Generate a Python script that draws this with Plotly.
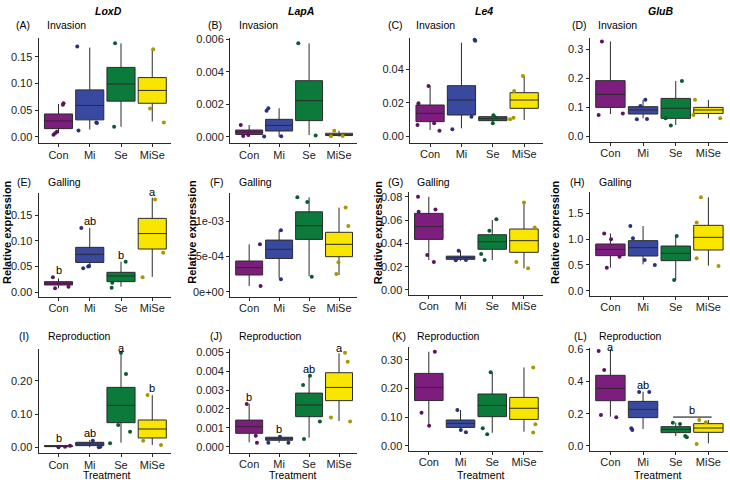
import plotly.graph_objects as go

CATS = ["Con", "Mi", "Se", "MiSe"]
GENES = ["LoxD", "LapA", "Le4", "GluB"]
STAGES = ["Invasion", "Galling", "Reproduction"]
TAGS = ["(A)", "(B)", "(C)", "(D)", "(E)", "(F)", "(G)", "(H)", "(I)", "(J)", "(K)", "(L)"]

# box statistics per treatment: [lower whisker, q1, median, q3, upper whisker]
A_box = [[0.007, 0.0156, 0.030, 0.043, 0.0616], [0.014, 0.032, 0.059, 0.088, 0.167],
         [0.019, 0.067, 0.099, 0.130, 0.175], [0.029, 0.063, 0.087, 0.111, 0.164]]
B_box = [[0.0, 0.00014, 0.00029, 0.00041, 0.00072], [0.0, 0.00035, 0.0007, 0.00107, 0.00175],
         [0.0001, 0.00099, 0.00222, 0.00345, 0.00575], [0.0, 0.00007, 0.00014, 0.00021, 0.00037]]
C_box = [[0.0036, 0.0086, 0.0136, 0.0186, 0.030], [0.0046, 0.0126, 0.0216, 0.0302, 0.056],
         [0.0076, 0.0092, 0.0104, 0.0116, 0.0126], [0.0096, 0.0166, 0.0216, 0.026, 0.036]]
D_box = [[0.076, 0.099, 0.144, 0.1915, 0.327], [0.061, 0.076, 0.09, 0.1015, 0.125],
         [0.038, 0.061, 0.096, 0.130, 0.19], [0.061, 0.078, 0.09, 0.099, 0.125]]
E_box = [[0.0078, 0.0142, 0.0175, 0.0207, 0.027], [0.048, 0.058, 0.0737, 0.0873, 0.125],
         [0.011, 0.0207, 0.0317, 0.0388, 0.0595], [0.030, 0.084, 0.114, 0.1435, 0.1836]]
F_box = [[0.00008, 0.000236, 0.00034, 0.000434, 0.00067], [0.00019, 0.00047, 0.0006, 0.00073, 0.00087],
         [0.00022, 0.00074, 0.000934, 0.00113, 0.001335], [0.000236, 0.000495, 0.00067, 0.00084, 0.00119]]
G_box = [[0.0257, 0.0434, 0.0543, 0.0657, 0.08], [0.025, 0.0263, 0.0277, 0.029, 0.0337],
         [0.0257, 0.0349, 0.0414, 0.0474, 0.060], [0.0186, 0.0323, 0.0423, 0.0523, 0.0743]]
H_box = [[0.446, 0.679, 0.80, 0.905, 1.11], [0.51, 0.672, 0.834, 0.97, 1.254],
         [0.207, 0.582, 0.724, 0.866, 1.06], [0.485, 0.789, 1.034, 1.267, 1.81]]
I_box = [[0.0, 0.002, 0.0035, 0.005, 0.007], [0.0, 0.005, 0.010, 0.015, 0.022],
         [0.014, 0.074, 0.126, 0.18, 0.287], [0.007, 0.028, 0.055, 0.082, 0.157]]
J_box = [[0.00023, 0.00071, 0.00106, 0.00141, 0.00226], [0.00021, 0.00034, 0.00042, 0.0005, 0.00057],
         [0.00048, 0.00159, 0.00221, 0.00284, 0.00376], [0.00136, 0.00244, 0.00314, 0.00392, 0.00495]]
K_box = [[0.072, 0.158, 0.204, 0.253, 0.329], [0.0525, 0.064, 0.078, 0.09, 0.125],
         [0.0455, 0.1016, 0.141, 0.181, 0.257], [0.049, 0.092, 0.131, 0.169, 0.274]]
L_box = [[0.182, 0.281, 0.358, 0.4387, 0.60], [0.1055, 0.176, 0.2276, 0.277, 0.337],
         [0.062, 0.083, 0.1035, 0.12, 0.145], [0.0166, 0.0848, 0.1117, 0.1386, 0.161]]

# individual replicate values per treatment, and their horizontal jitter
A_pts = [[0.063, 0.060, 0.010, 0.007, 0.004], [0.169, 0.012, 0.027, 0.026], [0.175, 0.019], [0.164, 0.053, 0.027]]
A_jit = [[0.16, 0.14, -0.05, -0.11, -0.16], [-0.40, -0.36, 0.21, 0.23], [-0.19, -0.22], [0.03, -0.07, 0.37]]
B_pts = [[0.00072, 0.00004, 0.00010], [0.00175, 0.00160, 0.00001, 0.00002], [0.00575, 0.00008], [0.00037, 0.00003, 0.00005]]
B_jit = [[-0.28, -0.2, -0.03], [-0.36, -0.42, -0.5, 0.07], [-0.36, 0.22], [-0.16, -0.27, 0.12]]
C_pts = [[0.030, 0.0196, 0.0066, 0.0076, 0.0032], [0.0578, 0.0572, 0.004, 0.0116], [0.0124, 0.0076, 0.0112], [0.036, 0.027, 0.010, 0.011]]
C_jit = [[-0.05, -0.37, -0.4, 0.13, 0.3], [0.42, 0.44, -0.29, 0.32], [0.02, 0.0, 0.07], [-0.04, -0.32, -0.45, -0.34]]
D_pts = [[0.327, 0.073, 0.078], [0.125, 0.104, 0.058, 0.059], [0.19, 0.036, 0.061], [0.125, 0.073, 0.061]]
D_jit = [[-0.26, -0.36, 0.38], [0.07, -0.08, -0.19, 0.12], [0.19, -0.15, -0.31], [-0.41, -0.46, 0.36]]
E_pts = [[0.029, 0.008, 0.011], [0.125, 0.0465, 0.050, 0.051], [0.0595, 0.0187, 0.009], [0.180, 0.077, 0.029]]
E_jit = [[-0.18, -0.11, 0.32], [-0.27, -0.21, -0.05, -0.02], [0.15, -0.28, -0.3], [0.09, 0.35, -0.31]]
F_pts = [[0.00067, 0.00008], [0.00087, 0.000175], [0.001335, 0.00127, 0.00021], [0.00119, 0.00093, 0.000415, 0.00025]]
F_jit = [[0.36, 0.38], [0.06, 0.06], [-0.39, -0.06, 0.09], [0.22, 0.31, -0.02, -0.09]]
G_pts = [[0.080, 0.067, 0.069, 0.030, 0.024], [0.0337, 0.0255, 0.0258], [0.0606, 0.0509, 0.0309, 0.0257], [0.075, 0.0537, 0.024, 0.0186]]
G_jit = [[-0.34, -0.32, 0.21, -0.05, 0.16], [-0.06, -0.15, 0.17], [0.13, -0.09, -0.35, -0.24], [0.0, 0.34, -0.24, 0.13]]
H_pts = [[1.11, 0.995, 0.446, 0.66], [1.254, 1.015, 0.595, 0.50], [1.06, 0.207], [1.81, 1.32, 0.627, 0.478]]
H_jit = [[-0.19, 0.02, -0.11, 0.28], [-0.39, -0.31, 0.05, 0.36], [0.03, -0.05], [-0.23, -0.36, -0.36, 0.31]]
I_pts = [[0.0, 0.002, 0.005], [0.020, 0.0, 0.002], [0.284, 0.220, 0.067, 0.047, 0.012], [0.157, 0.020, 0.007]]
I_jit = [[0.0, 0.21, 0.37], [0.1, 0.29, 0.34], [0.0, 0.16, -0.09, 0.29, -0.35], [-0.15, -0.29, 0.28]]
J_pts = [[0.00226, 0.00058, 0.00021], [0.00053, 0.00021, 0.00021], [0.00376, 0.00327, 0.00041, 0.00133], [0.00498, 0.0045, 0.00155, 0.00133]]
J_jit = [[-0.08, 0.22, 0.26], [0.03, -0.36, 0.31], [0.03, -0.2, -0.17, 0.36], [0.2, 0.29, -0.27, 0.37]]
K_pts = [[0.329, 0.1156, 0.070], [0.125, 0.047, 0.055], [0.257, 0.061, 0.040], [0.274, 0.075, 0.046]]
K_jit = [[0.19, -0.23, 0.01], [-0.1, 0.17, 0.01], [-0.05, -0.3, -0.16], [0.29, 0.36, 0.29]]
L_pts = [[0.59, 0.472, 0.192, 0.178], [0.335, 0.335, 0.11, 0.10], [0.145, 0.137, 0.062, 0.054], [0.161, 0.147, 0.0124]]
L_jit = [[-0.36, -0.19, -0.29, 0.18], [-0.12, 0.19, -0.36, -0.33], [-0.09, 0.13, 0.29, 0.34], [-0.28, -0.08, -0.36]]

# y tick values and labels
A_ticks, A_ticktext = [0, 0.05, 0.10, 0.15], ["0.00", "0.05", "0.10", "0.15"]
B_ticks, B_ticktext = [0, 0.002, 0.004, 0.006], ["0.000", "0.002", "0.004", "0.006"]
C_ticks, C_ticktext = [0, 0.02, 0.04], ["0.00", "0.02", "0.04"]
D_ticks, D_ticktext = [0, 0.1, 0.2, 0.3], ["0.0", "0.1", "0.2", "0.3"]
E_ticks, E_ticktext = [0, 0.05, 0.10, 0.15], ["0.00", "0.05", "0.10", "0.15"]
F_ticks, F_ticktext = [0, 0.0005, 0.001], ["0e+00", "5e-04", "1e-03"]
G_ticks, G_ticktext = [0, 0.02, 0.04, 0.06, 0.08], ["0.00", "0.02", "0.04", "0.06", "0.08"]
H_ticks, H_ticktext = [0, 0.5, 1.0, 1.5], ["0.0", "0.5", "1.0", "1.5"]
I_ticks, I_ticktext = [0, 0.10, 0.20], ["0.00", "0.10", "0.20"]
J_ticks, J_ticktext = [0, 0.001, 0.002, 0.003, 0.004, 0.005], ["0.000", "0.001", "0.002", "0.003", "0.004", "0.005"]
K_ticks, K_ticktext = [0, 0.10, 0.20, 0.30], ["0.00", "0.10", "0.20", "0.30"]
L_ticks, L_ticktext = [0, 0.2, 0.4, 0.6], ["0.0", "0.2", "0.4", "0.6"]

# significance letters
E_letters = ["b", "ab", "b", "a"]
I_letters = ["b", "ab", "a", "b"]
J_letters = ["b", "b", "ab", "a"]
L_letters = ["a", "ab", "", ""]
L_group_letter = "b"   # shared by Se and MiSe

BOXES = [A_box, B_box, C_box, D_box, E_box, F_box, G_box, H_box, I_box, J_box, K_box, L_box]
PTS = [A_pts, B_pts, C_pts, D_pts, E_pts, F_pts, G_pts, H_pts, I_pts, J_pts, K_pts, L_pts]
JIT = [A_jit, B_jit, C_jit, D_jit, E_jit, F_jit, G_jit, H_jit, I_jit, J_jit, K_jit, L_jit]
TICKS = [(A_ticks, A_ticktext), (B_ticks, B_ticktext), (C_ticks, C_ticktext), (D_ticks, D_ticktext),
         (E_ticks, E_ticktext), (F_ticks, F_ticktext), (G_ticks, G_ticktext), (H_ticks, H_ticktext),
         (I_ticks, I_ticktext), (J_ticks, J_ticktext), (K_ticks, K_ticktext), (L_ticks, L_ticktext)]
LETTERS = {4: E_letters, 8: I_letters, 9: J_letters, 11: L_letters}

# ---------- styling / geometry ----------
W, H = 730, 480
FILL = ["#7D1D7D", "#3A49A0", "#0B7A3B", "#F8E500"]
DOT = ["#5A1460", "#27307A", "#0B5A2E", "#A89800"]
LINE = "#2b2b2b"
FONT = "Liberation Sans, Arial, sans-serif"

LEFT = [38.5, 230, 410, 589.5, 38.5, 230, 408.5, 589.5, 38.5, 230, 408.5, 589.5]
RIGHT = [171, 357, 543, 728] * 3
TOP = [38.3, 38, 37.7, 37.7, 192.7, 193.3, 191.7, 191.7, 349.3, 349.3, 347.3, 347.7]
BOTTOM = [143.3, 143.3, 142.7, 141.7, 296.7, 296.7, 295, 295.7, 453.3, 452.7, 450.7, 450.7]
YRANGE = [[-0.0118, 0.1844], [-0.000407, 0.00608], [-0.00402, 0.059], [-0.0197, 0.340],
          [-0.0085, 0.1933], [-0.000071, 0.001392], [-0.0043, 0.0843], [-0.097, 1.919],
          [-0.018, 0.2943], [-0.000318, 0.00516], [-0.0175, 0.3444], [-0.0292, 0.61]]
XRANGE = [-0.64, 3.6]


def px(x, y):
    return x / W, 1 - y / H


fig = go.Figure()
annotations = []
shapes = []

for p in range(12):
    sfx = "" if p == 0 else str(p + 1)
    xa, ya = "x" + sfx, "y" + sfx
    vpp = (YRANGE[p][1] - YRANGE[p][0]) / (BOTTOM[p] - TOP[p])
    for g in range(4):
        lo, q1, med, q3, hi = BOXES[p][g]
        fig.add_trace(go.Box(
            x=[g], q1=[q1], median=[med], q3=[q3], lowerfence=[lo], upperfence=[hi],
            width=0.9, whiskerwidth=0, boxpoints=False, fillcolor=FILL[g],
            line=dict(color=LINE, width=1), xaxis=xa, yaxis=ya, hoverinfo="skip",
            showlegend=False))
        fig.add_trace(go.Scatter(
            x=[g + j for j in JIT[p][g]], y=PTS[p][g], mode="markers",
            marker=dict(size=4, color=DOT[g]), xaxis=xa, yaxis=ya,
            hoverinfo="skip", showlegend=False, cliponaxis=False))

    xd = [LEFT[p] / W, RIGHT[p] / W]
    yd = [1 - BOTTOM[p] / H, 1 - TOP[p] / H]
    tv, tt = TICKS[p]
    fig.layout["xaxis" + sfx] = dict(
        domain=xd, range=XRANGE, anchor=ya, tickvals=[0, 1, 2, 3], ticktext=CATS,
        showline=True, linecolor=LINE, linewidth=1, ticks="outside", ticklen=3,
        tickcolor=LINE, showgrid=False, zeroline=False, automargin=False,
        ticklabelstandoff=-2,
        tickfont=dict(family=FONT, size=11, color="#222"))
    fig.layout["yaxis" + sfx] = dict(
        domain=yd, range=YRANGE[p], anchor=xa, tickvals=tv, ticktext=tt,
        showline=True, linecolor=LINE, linewidth=1, ticks="outside", ticklen=3,
        tickcolor=LINE, showgrid=False, zeroline=False, automargin=False,
        tickfont=dict(family=FONT, size=11, color="#222"))

    # significance letters (about 7 px above the highest mark, kept near the panel top)
    if p in LETTERS:
        for g, lab in enumerate(LETTERS[p]):
            if not lab:
                continue
            top = max([BOXES[p][g][4]] + PTS[p][g])
            shift = min(7.0, (YRANGE[p][1] - top) / vpp + 1.0)
            annotations.append(dict(x=g, y=top, xref=xa, yref=ya, text=lab, showarrow=False,
                                    yanchor="middle", yshift=shift,
                                    font=dict(family=FONT, size=11, color="black")))
    if p == 11:
        ytop = max([BOXES[p][2][4], BOXES[p][3][4]] + PTS[p][2] + PTS[p][3])
        by = ytop + 3 * vpp
        shapes.append(dict(type="line", xref=xa, yref=ya, x0=2 - 0.08, x1=3 + 0.1, y0=by, y1=by,
                           line=dict(color="black", width=1)))
        annotations.append(dict(x=2.5, y=by, xref=xa, yref=ya, text=L_group_letter,
                                showarrow=False, yanchor="middle", yshift=7,
                                font=dict(family=FONT, size=11, color="black")))

# gene titles
for c, (gname, cx) in enumerate(zip(GENES, [108, 300.7, 484, 660])):
    x, y = px(cx, 11)
    annotations.append(dict(x=x, y=y, xref="paper", yref="paper", text="<b><i>%s</i></b>" % gname,
                            showarrow=False, xanchor="center", yanchor="middle",
                            font=dict(family=FONT, size=10.5, color="black")))

# panel tags and stage labels
TAG_POS = [(22.7, 25), (215, 25), (395.7, 25), (579, 25),
           (24, 182.3), (216.7, 182.3), (395, 182.3), (577.7, 182.3),
           (24.3, 335.7), (216, 335.7), (399.3, 335.7), (580, 335.7)]
STAGE_X = [45, 237.3, 414.3, 596, 45.7, 237.3, 415, 596.7, 45.7, 237.3, 415, 596.7]
for p in range(12):
    x, y = px(*TAG_POS[p])
    annotations.append(dict(x=x, y=y, xref="paper", yref="paper", text=TAGS[p], showarrow=False,
                            xanchor="center", yanchor="middle", font=dict(family=FONT, size=10.5, color="black")))
    x, y = px(STAGE_X[p], TAG_POS[p][1])
    annotations.append(dict(x=x, y=y, xref="paper", yref="paper", text=STAGES[p // 4], showarrow=False,
                            xanchor="left", yanchor="middle", font=dict(family=FONT, size=10.5, color="black")))

# y titles on middle row
for cx in [7, 191.7, 378.3, 555]:
    x, y = px(cx, 232)
    annotations.append(dict(x=x, y=y, xref="paper", yref="paper", text="<b>Relative expression</b>",
                            showarrow=False, textangle=-90, xanchor="center", yanchor="middle",
                            font=dict(family=FONT, size=11, color="black")))

# x titles on bottom row
for cx in [106.7, 293.3, 480.7, 658.3]:
    x, y = px(cx, 474.5)
    annotations.append(dict(x=x, y=y, xref="paper", yref="paper", text="Treatment",
                            showarrow=False, xanchor="center", yanchor="middle",
                            font=dict(family=FONT, size=10.5, color="black")))

fig.update_layout(width=W, height=H, margin=dict(l=0, r=0, t=0, b=0, autoexpand=False),
                  paper_bgcolor="white", plot_bgcolor="white", showlegend=False,
                  annotations=annotations, shapes=shapes, font=dict(family=FONT))

fig.write_html("out.html", config={"displayModeBar": False},
               post_script="document.body.style.margin='0';document.body.style.overflow='hidden';")
